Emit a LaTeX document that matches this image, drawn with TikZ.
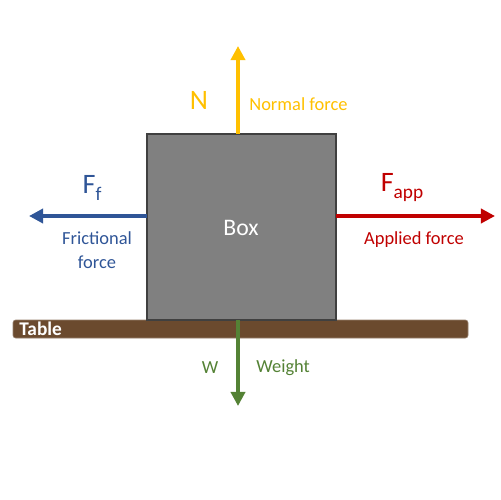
\documentclass[tikz,border=0pt]{standalone}
\usepackage{fontspec}
\setmainfont{Carlito}
\usetikzlibrary{arrows.meta}
\definecolor{boxgray}{HTML}{808080}
\definecolor{boxedge}{HTML}{404040}
\definecolor{tablebrown}{HTML}{6B4A2E}
\definecolor{normyel}{HTML}{FFC000}
\definecolor{fricblue}{HTML}{2F5597}
\definecolor{apred}{HTML}{C00000}
\definecolor{wgreen}{HTML}{548235}
\tikzset{
  force/.style={line width=2.2pt,-{Triangle[length=8pt,width=8pt]}},
  biglabel/.style={font=\fontsize{16}{18}\selectfont,inner sep=0pt},
  smalllabel/.style={font=\fontsize{10.5}{12}\selectfont,inner sep=0pt,align=center},
}
\begin{document}
\begin{tikzpicture}[x=0.02cm,y=-0.02cm]
\useasboundingbox (0,0) rectangle (500,500);
% table
\node (table) [draw=tablebrown!70!white,fill=tablebrown,rounded corners=1.5pt,minimum width=455*0.02cm,minimum height=18*0.02cm,inner sep=0pt,line width=0.4pt] at (240.5,329) {};
\node (tabletext) [anchor=west,text=white,font=\fontsize{11}{12}\selectfont\bfseries,inner sep=0pt] at (19,329) {Table};
% box
\node (box) [draw=boxedge,fill=boxgray,line width=0.8pt,minimum width=189*0.02cm,minimum height=186*0.02cm,inner sep=0pt] at (241.5,227) {};
\node (boxtext) [text=white,font=\fontsize{13.5}{16}\selectfont,inner sep=0pt] at (241,228) {Box};
% coordinates for tips
\coordinate (ntip) at (238,46);
\coordinate (ftip) at (29,216);
\coordinate (atip) at (495,216);
\coordinate (wtip) at (238,406);
\coordinate (ntail) at (238,134);
\coordinate (ftail) at (147,216);
\coordinate (atail) at (336,216);
\coordinate (wtail) at (238,320);
% arrows
\draw[force,draw=normyel] (ntail) -- (ntip);
\draw[force,draw=fricblue] (ftail) -- (ftip);
\draw[force,draw=apred] (atail) -- (atip);
\draw[force,draw=wgreen] (wtail) -- (wtip);
% labels
\node (nlab) [biglabel,text=normyel] at (199,100) {N};
\node (nfor) [smalllabel,text=normyel,anchor=west] at (249,104) {Normal force};
\node (flab) [biglabel,text=fricblue] at (92,188) {F\raisebox{-0.25em}{\fontsize{11}{12}\selectfont f}};
\node (ffor) [smalllabel,text=fricblue,font=\fontsize{10.5}{14}\selectfont] at (97,250) {Frictional\\force};
\node (alab) [biglabel,text=apred] at (402,188) {F\raisebox{-0.25em}{\fontsize{11}{12}\selectfont app}};
\node (afor) [smalllabel,text=apred] at (414,240) {Applied force};
\node (wlab) [smalllabel,text=wgreen] at (210,368) {W};
\node (wfor) [smalllabel,text=wgreen,anchor=west] at (256,368) {Weight};
\end{tikzpicture}
\end{document}
